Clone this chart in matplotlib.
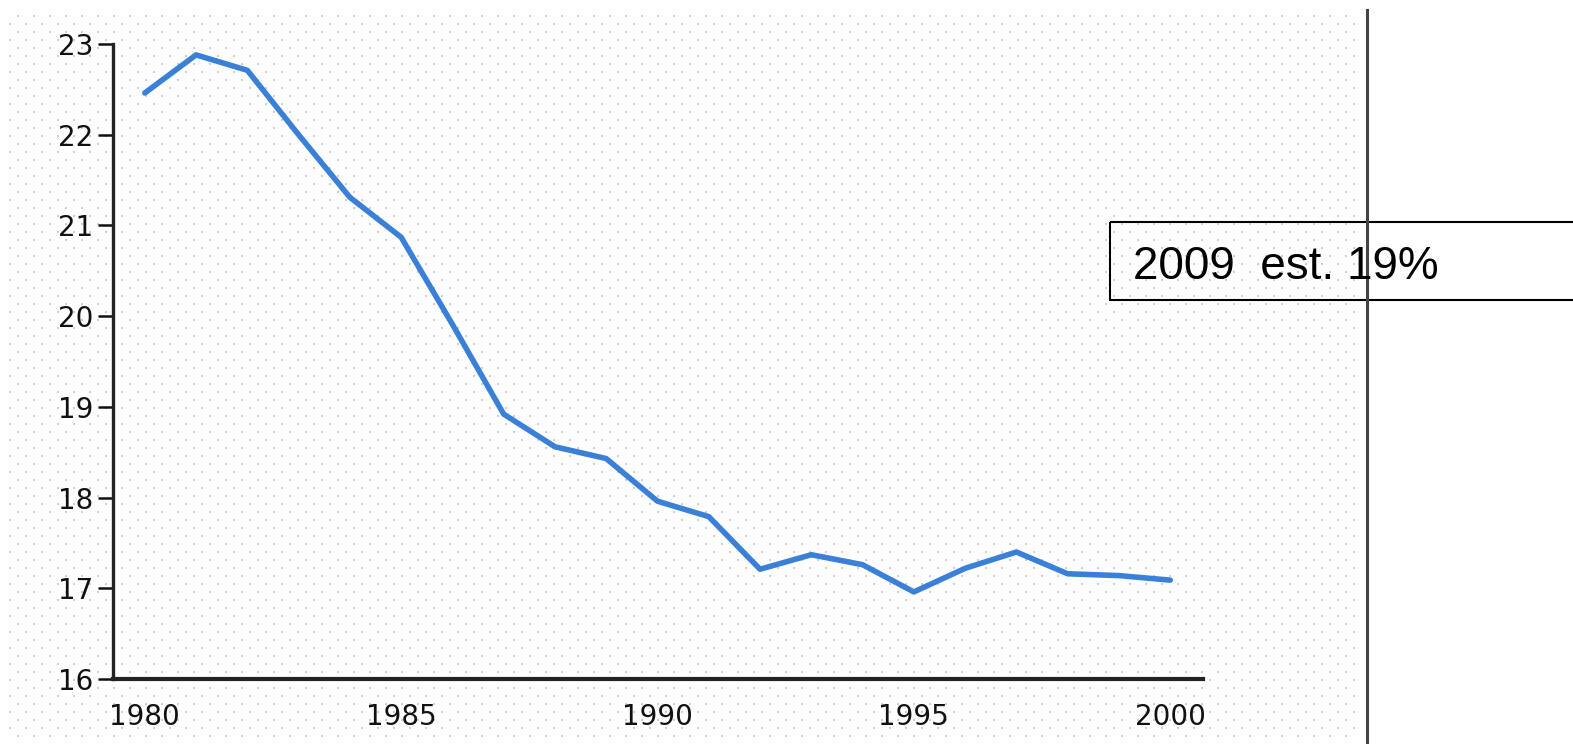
import numpy as np
from matplotlib import pyplot as plt
from matplotlib.patches import Rectangle

# data
years = list(range(1980, 2001))
values = [22.46, 22.88, 22.71, 22.0, 21.31, 20.87, 19.91, 18.92, 18.56, 18.43,
          17.96, 17.79, 17.21, 17.37, 17.26, 16.96, 17.22, 17.40, 17.16, 17.14, 17.09]
yticks = [16, 17, 18, 19, 20, 21, 22, 23]
xticks = [1980, 1985, 1990, 1995, 2000]
note = '2009  est. 19%'

W, H = 1573, 744
fig = plt.figure(figsize=(W / 100, H / 100), dpi=100)

# background layer in pixel coords: dotted texture, divider line, note box
bg = fig.add_axes([0, 0, 1, 1])
bg.set_xlim(0, W)
bg.set_ylim(H, 0)
bg.axis('off')
dx, dy = [], []
row = 0
for yy in np.arange(16, H, 8):
    off = 18 if row % 2 == 0 else 10
    xs = np.arange(off, 1362, 16)
    dx.extend(xs)
    dy.extend([yy] * len(xs))
    row += 1
bg.scatter(dx, dy, s=3.5, c='#cdcdcd', marker='s', linewidths=0)
bg.add_patch(Rectangle((1110, 222), 500, 78, fill=False, ec='black', lw=1.5))
bg.text(1133, 279, note, fontsize=33, family='Liberation Sans', va='baseline', ha='left')
bg.plot([1367, 1367], [10, H], color='#444444', lw=2.2)

# main chart
ax = fig.add_axes([113 / W, 1 - 679 / H, 1090 / W, 635 / H])
ax.patch.set_visible(False)
ax.plot(years, values, color='#3a80d8', lw=4, solid_joinstyle='round', solid_capstyle='round')
ax.set_xlim(1979.38, 2000.64)
ax.set_ylim(16, 23)
ax.set_xticks(xticks)
ax.set_yticks(yticks)
ax.spines['top'].set_visible(False)
ax.spines['right'].set_visible(False)
ax.spines['left'].set_linewidth(2.4)
ax.spines['bottom'].set_linewidth(3)
ax.spines['left'].set_color('#222222')
ax.spines['bottom'].set_color('#222222')
ax.tick_params(axis='y', length=11, width=1.8, pad=3, labelsize=20, colors='#111111')
ax.tick_params(axis='x', length=0, pad=17, labelsize=20, colors='#111111')

plt.savefig('out.png', dpi=100)
